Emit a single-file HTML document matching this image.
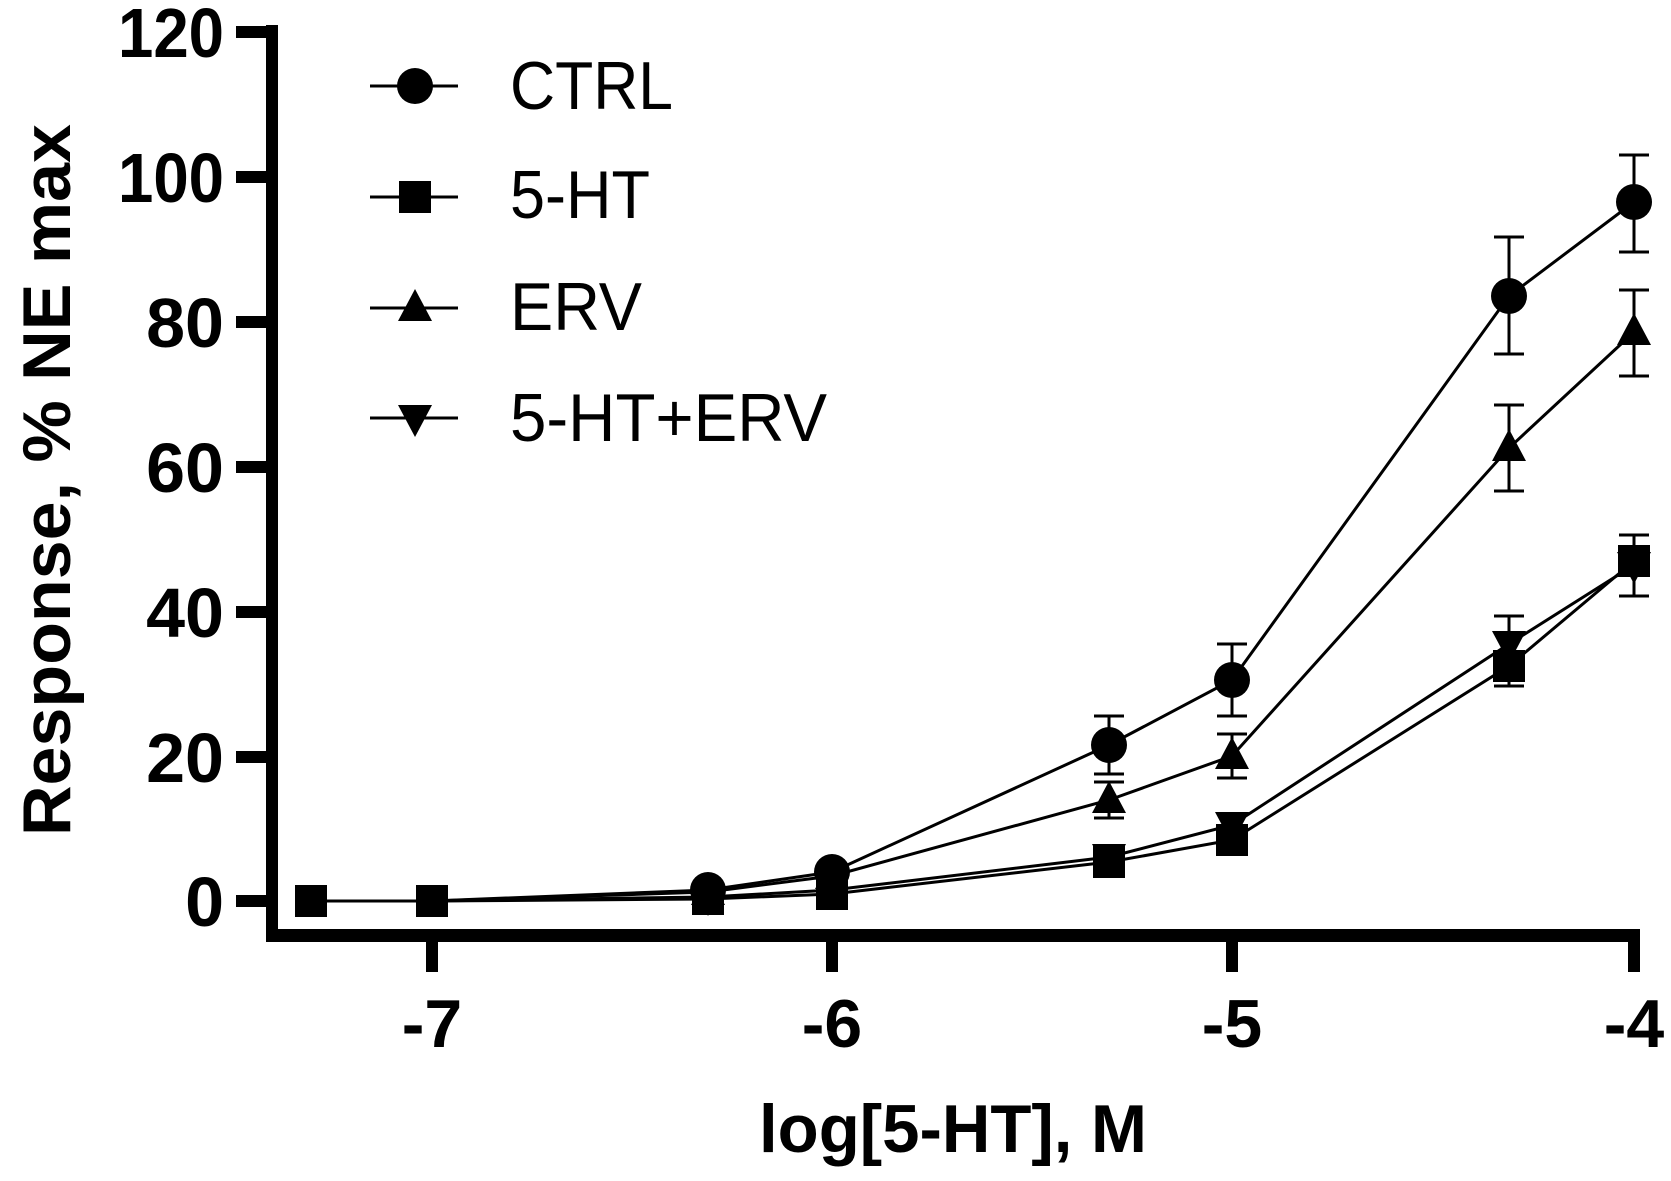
<!DOCTYPE html>
<html><head><meta charset="utf-8"><style>html,body{margin:0;padding:0;background:#fff}svg{display:block}</style></head>
<body>
<svg width="1671" height="1181" viewBox="0 0 1671 1181" xmlns="http://www.w3.org/2000/svg" font-family="Liberation Sans, Arial, sans-serif">
<defs>
<g id="c"><circle r="18" fill="#000"/></g>
<g id="s"><rect x="-16" y="-16" width="32" height="32" fill="#000"/></g>
<g id="t"><polygon points="0,-19 17,13 -17,13" fill="#000"/></g>
<g id="v"><polygon points="0,19 17,-13 -17,-13" fill="#000"/></g>
</defs>
<!-- axes -->
<g fill="#000">
<rect x="266" y="25" width="12" height="917"/>
<rect x="266" y="929" width="1374" height="13"/>
<!-- y ticks -->
<rect x="236" y="26" width="32" height="12"/>
<rect x="236" y="171" width="32" height="12"/>
<rect x="236" y="316" width="32" height="12"/>
<rect x="236" y="461" width="32" height="12"/>
<rect x="236" y="606" width="32" height="12"/>
<rect x="236" y="751" width="32" height="12"/>
<rect x="236" y="895" width="32" height="12"/>
<!-- x ticks -->
<rect x="426" y="940" width="12" height="32"/>
<rect x="826" y="940" width="12" height="32"/>
<rect x="1226" y="940" width="12" height="32"/>
<rect x="1628" y="940" width="12" height="32"/>
</g>
<g font-weight="bold" font-size="70" text-anchor="end" fill="#000">
<text x="224" y="57" textLength="106" lengthAdjust="spacingAndGlyphs">120</text>
<text x="224" y="202" textLength="106" lengthAdjust="spacingAndGlyphs">100</text>
<text x="224" y="347">80</text>
<text x="224" y="492">60</text>
<text x="224" y="637">40</text>
<text x="224" y="782">20</text>
<text x="224" y="926">0</text>
</g>
<g font-weight="bold" font-size="68" text-anchor="middle" fill="#000">
<text x="432" y="1047">-7</text>
<text x="832" y="1047">-6</text>
<text x="1232" y="1047">-5</text>
<text x="1634" y="1047">-4</text>
</g>
<text x="759" y="1152" font-weight="bold" font-size="68" textLength="388" lengthAdjust="spacingAndGlyphs">log[5-HT], M</text>
<text transform="translate(70,480) rotate(-90)" text-anchor="middle" font-weight="bold" font-size="68" textLength="712" lengthAdjust="spacingAndGlyphs">Response, % NE max</text>

<!-- series lines -->
<g fill="none" stroke="#000" stroke-width="3">
<!-- CTRL -->
<polyline points="311,901 432,901 708,890 832,872 1109,745 1232,680 1509,296 1634,202"/>
<!-- ERV -->
<polyline points="311,901 432,901 708,892 832,876 1109,800 1232,756 1509,448 1634,332"/>
<!-- 5-HT -->
<polyline points="311,901 432,901 708,899 832,894 1109,862 1232,840 1509,666 1634,561"/>
<!-- 5-HT+ERV -->
<polyline points="311,901 432,901 708,897 832,890 1109,857 1232,825 1509,644 1634,565"/>
</g>
<!-- error bars -->
<g stroke="#000" stroke-width="3">
<path d="M1109,716V774M1094,716H1124M1094,774H1124"/>
<path d="M1232,644V716M1217,644H1247M1217,716H1247"/>
<path d="M1509,237V354M1494,237H1524M1494,354H1524"/>
<path d="M1634,155V252M1619,155H1649M1619,252H1649"/>
<path d="M1109,782V818M1094,782H1124M1094,818H1124"/>
<path d="M1232,734V778M1217,734H1247M1217,778H1247"/>
<path d="M1509,405V491M1494,405H1524M1494,491H1524"/>
<path d="M1634,290V376M1619,290H1649M1619,376H1649"/>
<path d="M1509,616V686M1494,616H1524M1494,686H1524"/>
<path d="M1634,535V596M1619,535H1649M1619,596H1649"/>
</g>
<!-- markers -->
<use href="#v" x="708" y="897"/><use href="#v" x="832" y="890"/><use href="#v" x="1109" y="857"/><use href="#v" x="1232" y="825"/><use href="#v" x="1509" y="644"/><use href="#v" x="1634" y="565"/>
<use href="#s" x="311" y="901"/><use href="#s" x="432" y="901"/><use href="#s" x="708" y="899"/><use href="#s" x="832" y="894"/><use href="#s" x="1109" y="862"/><use href="#s" x="1232" y="840"/><use href="#s" x="1509" y="666"/><use href="#s" x="1634" y="561"/>
<use href="#t" x="708" y="892"/><use href="#t" x="832" y="876"/><use href="#t" x="1109" y="800"/><use href="#t" x="1232" y="756"/><use href="#t" x="1509" y="448"/><use href="#t" x="1634" y="332"/>
<use href="#c" x="708" y="890"/><use href="#c" x="832" y="872"/><use href="#c" x="1109" y="745"/><use href="#c" x="1232" y="680"/><use href="#c" x="1509" y="296"/><use href="#c" x="1634" y="202"/>

<!-- legend -->
<g stroke="#000" stroke-width="3">
<line x1="370" y1="86" x2="458" y2="86"/>
<line x1="370" y1="197" x2="458" y2="197"/>
<line x1="370" y1="308" x2="458" y2="308"/>
<line x1="370" y1="418" x2="458" y2="418"/>
</g>
<use href="#c" x="415" y="86"/>
<use href="#s" x="415" y="197"/>
<use href="#t" x="415" y="308"/>
<use href="#v" x="415" y="418"/>
<g font-size="68" fill="#000">
<text x="510" y="109" textLength="163" lengthAdjust="spacingAndGlyphs">CTRL</text>
<text x="510" y="218" textLength="140" lengthAdjust="spacingAndGlyphs">5-HT</text>
<text x="510" y="330" textLength="132" lengthAdjust="spacingAndGlyphs">ERV</text>
<text x="510" y="441" textLength="317" lengthAdjust="spacingAndGlyphs">5-HT+ERV</text>
</g>
</svg>
</body></html>
